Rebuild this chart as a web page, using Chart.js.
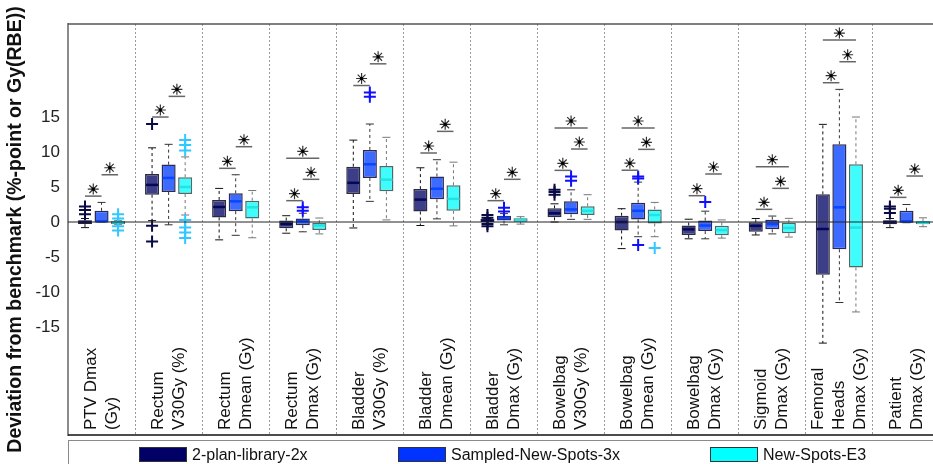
<!DOCTYPE html>
<html>
<head>
<meta charset="utf-8">
<script src="https://cdn.jsdelivr.net/npm/chart.js@4.4.1/dist/chart.umd.min.js"></script>
<style>
  html, body { margin: 0; padding: 0; background: #fff; overflow: hidden; }
  #wrap { position: relative; width: 933px; height: 464px; overflow: hidden; }
  #chart { position: absolute; left: 0; top: 0; }
  #legend {
    position: absolute; left: 68px; top: 440px; width: 900px; height: 30px;
    border: 1px solid #8a8a8a; box-sizing: border-box;
    font: 16px "Liberation Sans", Arial, sans-serif; color: #111;
  }
  .item { position: absolute; top: 5px; white-space: nowrap; }
  .swatch { display: inline-block; width: 46px; height: 13px; border: 1px solid #333; vertical-align: -2px; margin-right: 5px; }
</style>
</head>
<body>
<div id="wrap">
  <canvas id="chart" width="940" height="464"></canvas>
  <div id="legend"></div>
</div>
<script>
// Category labels, one entry per line of the rotated label
const categories = [
    ['PTV Dmax', '(Gy)'],
    ['Rectum', 'V30Gy (%)'],
    ['Rectum', 'Dmean (Gy)'],
    ['Rectum', 'Dmax (Gy)'],
    ['Bladder', 'V30Gy (%)'],
    ['Bladder', 'Dmean (Gy)'],
    ['Bladder', 'Dmax (Gy)'],
    ['Bowelbag', 'V30Gy (%)'],
    ['Bowelbag', 'Dmean (Gy)'],
    ['Bowelbag', 'Dmax (Gy)'],
    ['Sigmoid', 'Dmax (Gy)'],
    ['Femoral', 'Heads', 'Dmax (Gy)'],
    ['Patient', 'Dmax (Gy)']
];

const seriesNames = ['2-plan-library-2x', 'Sampled-New-Spots-3x', 'New-Spots-E3'];

// box stats per category: [lower whisker, q1, median, q3, upper whisker]
const libraryStats = [
    [-0.8, -0.3, 0.0, 0.25, 0.5],
    [0.2, 3.9, 5.3, 6.85, 10.6],
    [-2.55, 0.65, 2.15, 3.15, 4.8],
    [-1.6, -0.9, -0.3, 0.2, 0.9],
    [-0.85, 4.0, 5.6, 7.9, 11.7],
    [-0.5, 1.5, 3.2, 4.7, 7.75],
    [-0.2, -0.05, 0.2, 0.43, 0.5],
    [0.0, 0.67, 1.24, 1.95, 2.6],
    [-3.8, -1.2, 0.0, 0.9, 1.9],
    [-2.4, -1.85, -1.05, -0.5, 0.4],
    [-1.85, -1.4, -0.55, -0.05, 0.5],
    [-17.3, -7.55, -1.0, 3.95, 13.95],
    [-0.8, -0.33, 0.0, 0.24, 0.5]
];
const libraryOutliers = [
    [2.2, 1.7, 1.1], [14.0, -0.55, -2.8], [], [], [], [],
    [1.0, 0.6, -0.3, -0.6], [4.6, 4.3, 3.9], [], [], [], [], [2.2, 1.9, 1.3]
];

const sampledStats = [
    [0.0, 0.0, 0.1, 1.6, 2.8],
    [-0.4, 4.3, 6.3, 8.2, 11.1],
    [-1.9, 1.55, 2.95, 4.1, 6.75],
    [-1.4, -0.45, 0.15, 0.5, 1.25],
    [2.95, 6.3, 8.25, 10.3, 14.0],
    [0.45, 3.25, 4.75, 6.5, 8.9],
    [-0.4, 0.2, 0.57, 0.9, 1.2],
    [0.38, 1.1, 1.8, 2.95, 4.6],
    [-2.1, 0.35, 1.6, 2.75, 5.7],
    [-2.4, -1.3, -0.5, 0.2, 1.55],
    [-1.7, -1.05, -0.3, 0.33, 0.85],
    [-11.5, -3.9, 2.1, 11.1, 18.95],
    [-0.1, -0.1, 0.1, 1.6, 2.5]
];
const sampledOutliers = [
    [], [], [], [2.1, 1.6], [18.5, 17.9], [], [2.05, 1.5], [6.5, 5.9],
    [6.5, 6.2, -3.3], [2.85], [], [], []
];

const e3Stats = [
    [-0.33, -0.33, -0.05, 0.15, 0.2],
    [1.0, 4.0, 5.0, 6.4, 9.3],
    [-2.25, 0.5, 2.1, 3.05, 4.5],
    [-1.7, -1.15, -0.5, -0.15, 0.57],
    [0.3, 4.4, 6.05, 8.0, 12.1],
    [-0.55, 1.6, 3.3, 5.25, 8.55],
    [-0.3, 0.05, 0.3, 0.52, 0.76],
    [0.38, 1.0, 1.6, 2.25, 3.9],
    [-2.1, -0.2, 1.0, 1.8, 2.8],
    [-2.3, -1.9, -1.15, -0.52, 0.3],
    [-2.15, -1.6, -0.85, -0.1, 0.52],
    [-12.85, -6.5, -0.8, 8.25, 15.0],
    [-0.67, -0.33, -0.1, 0.1, 0.6]
];
const e3Outliers = [
    [1.1, 0.5, -0.6, -1.2], [11.7, 11.0, 10.2, 0.3, -0.8, -1.5, -2.3], [], [], [], [], [],
    [], [-3.7], [], [], [], []
];

// significance brackets: [category, from series, to series, bar height]
const significance = [
    [0, 0, 1, 3.7], [0, 1, 2, 6.75],
    [1, 0, 1, 15.0], [1, 1, 2, 17.95],
    [2, 0, 1, 7.67], [2, 1, 2, 10.76],
    [3, 0, 1, 3.05], [3, 1, 2, 6.1], [3, 0, 2, 9.1],
    [4, 0, 1, 19.5], [4, 1, 2, 22.6],
    [5, 0, 1, 9.86], [5, 1, 2, 12.95],
    [6, 0, 1, 3.05], [6, 1, 2, 6.1],
    [7, 0, 1, 7.38], [7, 1, 2, 10.43], [7, 0, 2, 13.43],
    [8, 0, 1, 7.4], [8, 1, 2, 10.38], [8, 0, 2, 13.43],
    [9, 0, 1, 3.76], [9, 1, 2, 6.86],
    [10, 0, 1, 1.81], [10, 1, 2, 4.81], [10, 0, 2, 7.9],
    [11, 0, 1, 19.9], [11, 1, 2, 22.9], [11, 0, 2, 26.0],
    [12, 0, 1, 3.52], [12, 1, 2, 6.57]
];

const yTicks = [-15, -10, -5, 0, 5, 10, 15];

const allStats = [libraryStats, sampledStats, e3Stats];
const allOutliers = [libraryOutliers, sampledOutliers, e3Outliers];
const legendColors = ['#000066', '#0033ff', '#00ffff'];
const boxColors = ['#3c3e87', '#3d6bff', '#3ffdfd'];
const boxBorders = ['#2a2a40', '#2a2a55', '#4a6a6a'];
const medianColors = ['#07075a', '#0a45ff', '#22e2e2'];
const whiskerColors = ['#111', '#333', '#777'];
const outlierColors = ['#0a0a45', '#1010ff', '#30c8ff'];
const FONT = '"Liberation Sans", Arial, sans-serif';

const boxPlotPlugin = {
    id: 'boxPlot',
    afterDatasetsDraw(chart) {
        const ctx = chart.ctx;
        const y = chart.scales.y;
        const area = chart.chartArea;
        const centers = [];

        ctx.save();
        allStats.forEach((stats, d) => {
            const meta = chart.getDatasetMeta(d);
            centers[d] = [];
            stats.forEach((s, i) => {
                const bar = meta.data[i].getProps(['x', 'width'], true);
                const cx = bar.x, hw = bar.width / 2;
                centers[d][i] = cx;
                const [lo, q1, med, q3, hi] = s.map(v => y.getPixelForValue(v));

                // whiskers
                ctx.strokeStyle = whiskerColors[d];
                ctx.lineWidth = 1;
                ctx.setLineDash([3, 3]);
                ctx.beginPath();
                ctx.moveTo(cx, q3); ctx.lineTo(cx, hi);
                ctx.moveTo(cx, q1); ctx.lineTo(cx, lo);
                ctx.stroke();
                ctx.setLineDash([]);
                ctx.beginPath();
                ctx.moveTo(cx - 4, hi); ctx.lineTo(cx + 4, hi);
                ctx.moveTo(cx - 4, lo); ctx.lineTo(cx + 4, lo);
                ctx.stroke();

                // median
                ctx.strokeStyle = medianColors[d];
                ctx.lineWidth = 2.5;
                ctx.beginPath();
                ctx.moveTo(cx - hw + 1, med); ctx.lineTo(cx + hw - 1, med);
                ctx.stroke();

                // outliers
                ctx.strokeStyle = outlierColors[d];
                ctx.lineWidth = 2;
                allOutliers[d][i].forEach(v => {
                    const py = y.getPixelForValue(v);
                    ctx.beginPath();
                    ctx.moveTo(cx - 6, py); ctx.lineTo(cx + 6, py);
                    ctx.moveTo(cx, py - 6); ctx.lineTo(cx, py + 6);
                    ctx.stroke();
                });
            });
        });

        // zero line on top of the boxes
        const y0 = y.getPixelForValue(0);
        ctx.strokeStyle = '#222';
        ctx.lineWidth = 1;
        ctx.beginPath();
        ctx.moveTo(area.left, y0); ctx.lineTo(area.right, y0);
        ctx.stroke();

        // significance bars with asterisks
        significance.forEach(([c, a, b, v]) => {
            const x1 = centers[a][c], x2 = centers[b][c];
            const py = y.getPixelForValue(v);
            ctx.strokeStyle = '#666';
            ctx.lineWidth = 1.5;
            ctx.beginPath();
            ctx.moveTo(x1, py); ctx.lineTo(x2, py);
            ctx.stroke();
            const mx = (x1 + x2) / 2, my = py - 7;
            ctx.strokeStyle = '#333';
            ctx.lineWidth = 1.2;
            ctx.beginPath();
            for (let k = 0; k < 4; k++) {
                const ang = k * Math.PI / 4;
                const dx = Math.cos(ang) * 5.5, dy = Math.sin(ang) * 5.5;
                ctx.moveTo(mx - dx, my - dy); ctx.lineTo(mx + dx, my + dy);
            }
            ctx.stroke();
            ctx.fillStyle = '#000';
            ctx.fillRect(mx - 1.5, my - 1.5, 3, 3);
        });

        // rotated category labels inside the plot
        const x = chart.scales.x;
        ctx.fillStyle = '#111';
        ctx.font = '17px ' + FONT;
        ctx.textAlign = 'left';
        ctx.textBaseline = 'middle';
        categories.forEach((lines, i) => {
            const cx = x.getPixelForValue(i);
            lines.forEach((line, j) => {
                const lx = cx + (j - (lines.length - 1) / 2) * 21;
                ctx.save();
                ctx.translate(lx, area.bottom - 5);
                ctx.rotate(-Math.PI / 2);
                ctx.fillText(line, 0, 0);
                ctx.restore();
            });
        });

        // frame
        ctx.lineWidth = 1.5;
        ctx.strokeStyle = '#555';
        ctx.beginPath();
        ctx.moveTo(area.left, area.top); ctx.lineTo(area.right, area.top);
        ctx.stroke();
        ctx.strokeStyle = '#111';
        ctx.beginPath();
        ctx.moveTo(area.left, area.bottom); ctx.lineTo(area.right, area.bottom);
        ctx.stroke();
        ctx.restore();
    }
};

new Chart(document.getElementById('chart'), {
    type: 'bar',
    data: {
        labels: categories.map(l => l.join(' ')),
        datasets: allStats.map((stats, d) => ({
            label: seriesNames[d],
            data: stats.map(s => [s[1], s[3]]),
            backgroundColor: boxColors[d],
            borderColor: boxBorders[d],
            borderWidth: 1.5,
            borderSkipped: false,
            categoryPercentage: 0.74,
            barPercentage: 0.85
        }))
    },
    options: {
        responsive: false,
        animation: false,
        layout: { autoPadding: false, padding: { top: 24, bottom: 29, left: 0, right: 0 } },
        scales: {
            x: {
                ticks: { display: false },
                grid: { offset: true, color: '#9a9a9a', lineWidth: 1, drawTicks: false },
                border: { display: false, dash: [2, 2] },
                afterFit: s => { s.height = 0; s.paddingLeft = 0; s.paddingRight = 0; }
            },
            y: {
                min: -30.43,
                max: 28.29,
                afterBuildTicks: s => { s.ticks = yTicks.map(v => ({ value: v })); },
                afterFit: s => { s.width = 68; s.paddingTop = 0; s.paddingBottom = 0; },
                ticks: { font: { size: 17, family: FONT }, color: '#222', padding: 8 },
                grid: { display: false, drawTicks: false },
                border: { color: '#8a8a8a', width: 2 },
                title: {
                    display: true,
                    text: 'Deviation from benchmark (%-point or Gy(RBE))',
                    font: { size: 19.5, weight: 'bold', family: FONT },
                    color: '#111',
                    padding: { top: 4, bottom: 0 }
                }
            }
        },
        plugins: {
            legend: { display: false },
            tooltip: { enabled: false }
        }
    },
    plugins: [boxPlotPlugin]
});

// legend strip under the plot
const legendEl = document.getElementById('legend');
const legendLeft = [70, 329, 641];
seriesNames.forEach((name, d) => {
    const item = document.createElement('div');
    item.className = 'item';
    item.style.left = legendLeft[d] + 'px';
    item.innerHTML = '<span class="swatch" style="background:' + legendColors[d] + '"></span>' + name;
    legendEl.appendChild(item);
});
</script>
</body>
</html>
